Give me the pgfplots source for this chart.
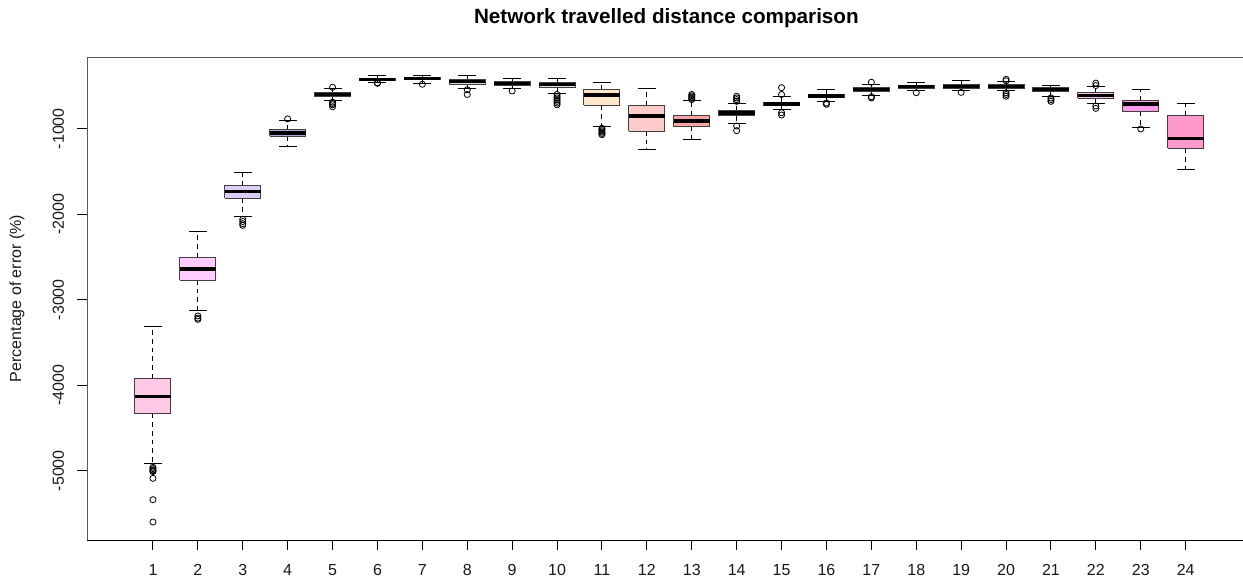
\documentclass[border=0pt]{standalone}
\usepackage{fontspec}
\setmainfont{Liberation Sans}
\usepackage{pgfplots}
\usepackage{pgfplotstable}
\pgfplotsset{compat=1.18}
\definecolor{c1}{HTML}{FFC8E4}
\definecolor{c2}{HTML}{FFCCFF}
\definecolor{c3}{HTML}{DCCDF5}
\definecolor{c4}{HTML}{A9A9CC}
\definecolor{c5}{HTML}{B8B8D8}
\definecolor{c6}{HTML}{C8C8E0}
\definecolor{c7}{HTML}{D8D0E8}
\definecolor{c8}{HTML}{E0D0E0}
\definecolor{c9}{HTML}{E8D8D8}
\definecolor{c10}{HTML}{F0E0D8}
\definecolor{c11}{HTML}{FFE4CC}
\definecolor{c12}{HTML}{FFCCCC}
\definecolor{c13}{HTML}{F5A3A3}
\definecolor{c14}{HTML}{BFAAA8}
\definecolor{c15}{HTML}{F0F0C8}
\definecolor{c16}{HTML}{E8F0C8}
\definecolor{c17}{HTML}{D8ECD0}
\definecolor{c18}{HTML}{D0E8E0}
\definecolor{c19}{HTML}{D0E0F0}
\definecolor{c20}{HTML}{E0D8F8}
\definecolor{c21}{HTML}{F0D0F8}
\definecolor{c22}{HTML}{F8C0F0}
\definecolor{c23}{HTML}{FF99EE}
\definecolor{c24}{HTML}{FF99CC}
% box statistics: position, lower whisker, lower quartile, median, upper quartile, upper whisker
\pgfplotstableread{
pos lw q1 med q3 uw
1 -4914 -4333 -4130 -3919 -3319
2 -3129 -2770 -2641 -2504 -2205
3 -2029 -1814 -1737 -1670 -1518
4 -1210 -1089 -1050 -1007 -905
5 -673 -626 -600 -571 -530
6 -454 -439 -425 -410 -372
7 -469 -430 -415 -399 -372
8 -527 -481 -450 -422 -372
9 -532 -492 -470 -446 -415
10 -586 -516 -487 -457 -415
11 -977 -726 -606 -547 -462
12 -1249 -1027 -851 -726 -527
13 -1124 -977 -910 -848 -673
14 -937 -851 -816 -790 -703
15 -781 -734 -710 -688 -618
16 -679 -637 -618 -598 -547
17 -606 -562 -540 -520 -481
18 -559 -532 -510 -492 -462
19 -559 -527 -505 -481 -439
20 -559 -527 -505 -481 -450
21 -626 -567 -545 -520 -489
22 -703 -644 -610 -579 -512
23 -990 -801 -711 -673 -539
24 -1475 -1229 -1112 -851 -700
}\bxdata
\pgfplotsset{
  bxs/.style={draw=black!75, line width=0.75pt, mark=none, line join=miter},
}
\begin{document}
\begin{tikzpicture}
\begin{axis}[
  scale only axis,
  width=872.85pt, height=362.25pt,
  xmin=-0.46, xmax=25.46,
  ymin=-5810.5, ymax=-161.4,
  axis line style={black!65, line width=0.75pt},
  tick pos=left,
  tick align=outside,
  major tick length=7.5pt,
  tick style={black, line width=0.75pt},
  xtick={1,...,24},
  ytick={-5000,-4000,-3000,-2000,-1000},
  yticklabels={-5000,-4000,-3000,-2000,-1000},
  /pgf/number format/assume math mode=true,
  tick label style={font=\fontsize{12}{14}\selectfont, text=black!90},
  yticklabel style={xshift=-9.75pt, rotate=90, anchor=south, inner sep=0pt},
  xticklabel style={anchor=north, inner sep=0pt, yshift=-10.5pt},
  ylabel={Percentage of error (\%)},
  ylabel style={font=\fontsize{12}{14}\selectfont, text=black!90, at={(axis description cs:-0.0604,0.5)}, anchor=center},
  title={\textbf{Network travelled distance comparison}},
  title style={font=\fontsize{15.5}{17}\selectfont, at={(axis description cs:0.4975,1)}, anchor=base, yshift=19.5pt},
  clip=false,
]
% whiskers (dashed) with solid caps
\addplot[draw=none, mark=none, forget plot,
  error bars/.cd, y dir=plus, y explicit,
  error bar style={draw=black, line width=0.75pt, dash pattern=on 3.5pt off 3pt},
  error mark=|, error mark options={draw=black, solid, line width=0.75pt, mark size=6.735pt}]
  table[x=pos, y=q3, y error plus expr=\thisrow{uw}-\thisrow{q3}] {\bxdata};
\addplot[draw=none, mark=none, forget plot,
  error bars/.cd, y dir=minus, y explicit,
  error bar style={draw=black, line width=0.75pt, dash pattern=on 3.5pt off 3pt},
  error mark=|, error mark options={draw=black, solid, line width=0.75pt, mark size=6.735pt}]
  table[x=pos, y=q1, y error minus expr=\thisrow{q1}-\thisrow{lw}] {\bxdata};
% boxes (lower to upper quartile)
\addplot[bxs, fill=c1] coordinates {(0.6,-4333) (1.4,-4333) (1.4,-3919) (0.6,-3919) (0.6,-4333)};
\addplot[bxs, fill=c2] coordinates {(1.6,-2770) (2.4,-2770) (2.4,-2504) (1.6,-2504) (1.6,-2770)};
\addplot[bxs, fill=c3] coordinates {(2.6,-1814) (3.4,-1814) (3.4,-1670) (2.6,-1670) (2.6,-1814)};
\addplot[bxs, fill=c4] coordinates {(3.6,-1089) (4.4,-1089) (4.4,-1007) (3.6,-1007) (3.6,-1089)};
\addplot[bxs, fill=c5] coordinates {(4.6,-626) (5.4,-626) (5.4,-571) (4.6,-571) (4.6,-626)};
\addplot[bxs, fill=c6] coordinates {(5.6,-439) (6.4,-439) (6.4,-410) (5.6,-410) (5.6,-439)};
\addplot[bxs, fill=c7] coordinates {(6.6,-430) (7.4,-430) (7.4,-399) (6.6,-399) (6.6,-430)};
\addplot[bxs, fill=c8] coordinates {(7.6,-481) (8.4,-481) (8.4,-422) (7.6,-422) (7.6,-481)};
\addplot[bxs, fill=c9] coordinates {(8.6,-492) (9.4,-492) (9.4,-446) (8.6,-446) (8.6,-492)};
\addplot[bxs, fill=c10] coordinates {(9.6,-516) (10.4,-516) (10.4,-457) (9.6,-457) (9.6,-516)};
\addplot[bxs, fill=c11] coordinates {(10.6,-726) (11.4,-726) (11.4,-547) (10.6,-547) (10.6,-726)};
\addplot[bxs, fill=c12] coordinates {(11.6,-1027) (12.4,-1027) (12.4,-726) (11.6,-726) (11.6,-1027)};
\addplot[bxs, fill=c13] coordinates {(12.6,-977) (13.4,-977) (13.4,-848) (12.6,-848) (12.6,-977)};
\addplot[bxs, fill=c14] coordinates {(13.6,-851) (14.4,-851) (14.4,-790) (13.6,-790) (13.6,-851)};
\addplot[bxs, fill=c15] coordinates {(14.6,-734) (15.4,-734) (15.4,-688) (14.6,-688) (14.6,-734)};
\addplot[bxs, fill=c16] coordinates {(15.6,-637) (16.4,-637) (16.4,-598) (15.6,-598) (15.6,-637)};
\addplot[bxs, fill=c17] coordinates {(16.6,-562) (17.4,-562) (17.4,-520) (16.6,-520) (16.6,-562)};
\addplot[bxs, fill=c18] coordinates {(17.6,-532) (18.4,-532) (18.4,-492) (17.6,-492) (17.6,-532)};
\addplot[bxs, fill=c19] coordinates {(18.6,-527) (19.4,-527) (19.4,-481) (18.6,-481) (18.6,-527)};
\addplot[bxs, fill=c20] coordinates {(19.6,-527) (20.4,-527) (20.4,-481) (19.6,-481) (19.6,-527)};
\addplot[bxs, fill=c21] coordinates {(20.6,-567) (21.4,-567) (21.4,-520) (20.6,-520) (20.6,-567)};
\addplot[bxs, fill=c22] coordinates {(21.6,-644) (22.4,-644) (22.4,-579) (21.6,-579) (21.6,-644)};
\addplot[bxs, fill=c23] coordinates {(22.6,-801) (23.4,-801) (23.4,-673) (22.6,-673) (22.6,-801)};
\addplot[bxs, fill=c24] coordinates {(23.6,-1229) (24.4,-1229) (24.4,-851) (23.6,-851) (23.6,-1229)};
% medians
\addplot[draw=none, mark=none,
  error bars/.cd, x dir=both, x fixed=0.4,
  error bar style={draw=black, line width=2.4pt, solid}, error mark=none]
  table[x=pos, y=med] {\bxdata};
% outliers
\addplot[only marks, mark=o, mark size=2.3pt, mark options={black, line width=0.6pt}] coordinates {
(1,-4960) (1,-4975) (1,-4990) (1,-5000) (1,-5010) (1,-5089) (1,-5339) (1,-5600)
(2,-3190) (2,-3215) (2,-3230)
(3,-2060) (3,-2085) (3,-2110) (3,-2130)
(4,-885)
(5,-515) (5,-690) (5,-705) (5,-720) (5,-743)
(6,-462) (6,-470)
(7,-480)
(8,-545) (8,-600)
(9,-559)
(10,-600) (10,-620) (10,-640) (10,-660) (10,-680) (10,-700) (10,-720)
(11,-995) (11,-1010) (11,-1025) (11,-1040) (11,-1055) (11,-1070)
(13,-600) (13,-615) (13,-630) (13,-645) (13,-660)
(14,-620) (14,-640) (14,-660) (14,-680) (14,-968) (14,-1023)
(15,-520) (15,-600) (15,-813) (15,-840)
(16,-700) (16,-715)
(17,-457) (17,-625) (17,-640)
(18,-579)
(19,-575)
(20,-422) (20,-440) (20,-580) (20,-600) (20,-620)
(21,-640) (21,-660) (21,-680)
(22,-467) (22,-495) (22,-734) (22,-762)
(23,-1003)
};
\draw[black, line width=0.75pt] (rel axis cs:0,0) -- (rel axis cs:1,0);
\end{axis}
\pgfresetboundingbox
\path[use as bounding box] (-65.55pt,-32.25pt) rectangle (866.7pt,405pt);
\end{tikzpicture}
\end{document}
